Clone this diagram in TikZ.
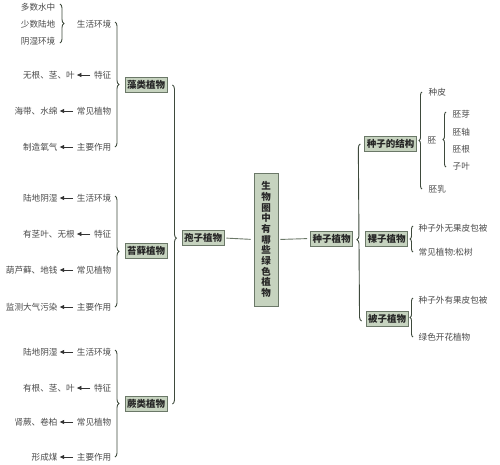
\documentclass[tikz,border=0pt]{standalone}
\usepackage{fontspec}
\newfontfamily\cjk{Noto Sans CJK SC}
\usetikzlibrary{arrows.meta,decorations.pathreplacing,calc}
\definecolor{boxfill}{HTML}{C6D3BF}
\definecolor{boxdraw}{HTML}{6B7868}
\definecolor{brcol}{HTML}{3E4A3C}
\definecolor{leafcol}{HTML}{4A4A4A}
\begin{document}
\begin{tikzpicture}[x=1pt,y=-1pt,
  leaf/.style={font=\cjk\fontsize{8.6}{10}\selectfont, text=leafcol, inner sep=0.5pt},
  cat/.style={draw=boxdraw, fill=boxfill, line width=0.9pt, font=\cjk\bfseries\fontsize{9.5}{11}\selectfont, inner xsep=2pt, inner ysep=1pt, minimum height=15pt, text=black!85},
  brc/.style={draw=brcol, line width=0.9pt, decorate, decoration={brace, amplitude=4pt}},
  arr/.style={draw=black!80, line width=0.7pt, shorten <=3pt, shorten >=1.5pt, -{Triangle[length=4.5pt,width=4pt]}},
  link/.style={draw=boxdraw, line width=0.9pt, shorten <=2pt, shorten >=3pt}]
\useasboundingbox (0,0) rectangle (500,464);

% ---- central nodes ----
\node[cat, text width=10pt, align=center, inner xsep=7pt, minimum height=133pt,
      font=\cjk\bfseries\fontsize{9.5}{10.7}\selectfont] (root) at (266,239.5)
  {生\\物\\圈\\中\\有\\哪\\些\\绿\\色\\植\\物};
\node[cat] (spore) at (203,238) {孢子植物};
\node[cat] (seed) at (331.5,238.5) {种子植物};
\draw[link] (spore.east) -- (root.west);
\draw[link] (root.east) -- (seed.west);

% ---- spore plants ----
\node[cat] (alg) at (146,85) {藻类植物};
\node[cat] (moss) at (146,251) {苔藓植物};
\node[cat] (fern) at (146,404) {蕨类植物};
\draw[brc, decoration={aspect=0.48}] ([xshift=5pt]alg.east) -- ([xshift=5pt]fern.east);

% algae
\node[leaf, anchor=east] (a1) at (112,24) {生活环境};
\node[leaf, anchor=east] (a2) at (112,75) {特征};
\node[leaf, anchor=east] (a3) at (112,111) {常见植物};
\node[leaf, anchor=east] (a4) at (112,147) {主要作用};
\node[leaf, anchor=east] (w1) at (56,7) {多数水中};
\node[leaf, anchor=east] (w2) at (56,24) {少数陆地};
\node[leaf, anchor=east] (w3) at (56,41) {阴湿环境};
\draw[brc] ([xshift=4pt,yshift=3pt]w1.east) -- ([xshift=4pt,yshift=-2pt]w3.east);
\node[leaf, anchor=east] (a2t) at ([xshift=-18pt]a2.west) {无根、茎、叶};
\node[leaf, anchor=east] (a3t) at ([xshift=-18pt]a3.west) {海带、水绵};
\node[leaf, anchor=east] (a4t) at ([xshift=-18pt]a4.west) {制造氧气};
\draw[arr] (a2.west) -- (a2t.east);
\draw[arr] (a3.west) -- (a3t.east);
\draw[arr] (a4.west) -- (a4t.east);
\draw[brc] ([xshift=3pt,yshift=2pt]a1.east) -- ([xshift=3pt]a4.east);

% moss
\node[leaf, anchor=east] (m1) at (112,198) {生活环境};
\node[leaf, anchor=east] (m2) at (112,234) {特征};
\node[leaf, anchor=east] (m3) at (112,270) {常见植物};
\node[leaf, anchor=east] (m4) at (112,307) {主要作用};
\node[leaf, anchor=east] (m1t) at ([xshift=-18pt]m1.west) {陆地阴湿};
\node[leaf, anchor=east] (m2t) at ([xshift=-18pt]m2.west) {有茎叶、无根};
\node[leaf, anchor=east] (m3t) at ([xshift=-18pt]m3.west) {葫芦藓、地钱};
\node[leaf, anchor=east] (m4t) at ([xshift=-18pt]m4.west) {监测大气污染};
\draw[arr] (m1.west) -- (m1t.east);
\draw[arr] (m2.west) -- (m2t.east);
\draw[arr] (m3.west) -- (m3t.east);
\draw[arr] (m4.west) -- (m4t.east);
\draw[brc] ([xshift=3pt,yshift=2pt]m1.east) -- ([xshift=3pt]m4.east);

% fern
\node[leaf, anchor=east] (f1) at (112,352) {生活环境};
\node[leaf, anchor=east] (f2) at (112,388) {特征};
\node[leaf, anchor=east] (f3) at (112,422) {常见植物};
\node[leaf, anchor=east] (f4) at (112,457) {主要作用};
\node[leaf, anchor=east] (f1t) at ([xshift=-18pt]f1.west) {陆地阴湿};
\node[leaf, anchor=east] (f2t) at ([xshift=-18pt]f2.west) {有根、茎、叶};
\node[leaf, anchor=east] (f3t) at ([xshift=-18pt]f3.west) {肾蕨、卷柏};
\node[leaf, anchor=east] (f4t) at ([xshift=-18pt]f4.west) {形成煤};
\draw[arr] (f1.west) -- (f1t.east);
\draw[arr] (f2.west) -- (f2t.east);
\draw[arr] (f3.west) -- (f3t.east);
\draw[arr] (f4.west) -- (f4t.east);
\draw[brc] ([xshift=3pt,yshift=2pt]f1.east) -- ([xshift=3pt]f4.east);

% ---- seed plants ----
\node[cat] (struct) at (390.5,144) {种子的结构};
\node[cat] (gym) at (386.5,239) {裸子植物};
\node[cat] (ang) at (387,319) {被子植物};
\draw[brc, decoration={aspect=0.46}] ([xshift=-4pt,yshift=-2pt]ang.west) -- ([xshift=-4pt]struct.west);

% structure
\node[leaf, anchor=west] (coat) at (428,92) {种皮};
\node[leaf, anchor=west] (emb) at (427,140) {胚};
\node[leaf, anchor=west] (endo) at (428,189) {胚乳};
\draw[brc, decoration={amplitude=3pt}] ([xshift=-6pt]endo.west) -- ([xshift=-6pt]coat.west);
\node[leaf, anchor=west] (e1) at (452,114) {胚芽};
\node[leaf, anchor=west] (e2) at (452,132) {胚轴};
\node[leaf, anchor=west] (e3) at (452,149) {胚根};
\node[leaf, anchor=west] (e4) at (452,166) {子叶};
\draw[brc, decoration={amplitude=3pt}] ([xshift=-6pt,yshift=-1pt]e4.west) -- ([xshift=-6pt,yshift=2pt]e1.west);

% gymnosperms
\node[leaf, anchor=west] (g1) at (418,228) {种子外无果皮包被};
\node[leaf, anchor=west] (g2) at (418,252) {常见植物:松树};
\draw[brc, decoration={amplitude=3pt}] ([xshift=-5pt]g2.west) -- ([xshift=-5pt,yshift=2pt]g1.west);

% angiosperms
\node[leaf, anchor=west] (n1) at (418,300) {种子外有果皮包被};
\node[leaf, anchor=west] (n2) at (418,337) {绿色开花植物};
\draw[brc, decoration={amplitude=3pt}] ([xshift=-5pt]n2.west) -- ([xshift=-5pt,yshift=2pt]n1.west);
\end{tikzpicture}
\end{document}
